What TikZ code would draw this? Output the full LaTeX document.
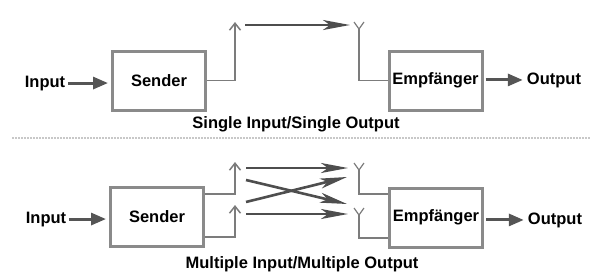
\documentclass[tikz,border=0pt]{standalone}
\usepackage{fontspec}
\setmainfont{Liberation Sans}
\usetikzlibrary{arrows.meta, positioning, calc}

\definecolor{boxgray}{HTML}{8A8A8A}
\definecolor{feedgray}{HTML}{7C7C7C}
\definecolor{sigdark}{HTML}{4E4E4E}
\definecolor{iodark}{HTML}{555555}
\definecolor{sepgray}{HTML}{C8C8C8}

\begin{document}
\begin{tikzpicture}[
    x=1pt, y=-1pt,
    block/.style={draw=boxgray, line width=3pt, minimum width=93pt, minimum height=59pt, inner sep=0pt, font=\bfseries\fontsize{16.5}{19}\selectfont},
    lbl/.style={font=\bfseries\fontsize{16.5}{19}\selectfont, inner sep=0pt},
    feed/.style={draw=feedgray, line width=1.5pt},
    txant/.style={feed, -{Straight Barb[length=7pt, width=11pt]}},
    io/.style={draw=iodark, line width=3pt, -{Triangle[length=15pt, width=12pt]}},
    sig/.style={draw=sigdark, line width=2.6pt, -{Stealth[length=27pt, width=10pt, inset=7pt]}}
]
    \useasboundingbox (0,0) rectangle (599,279);

    % Single Input / Single Output
    \node[block] (snd1) at (159,80.5) {Sender};
    \node[block] (rcv1) at (435.5,80.5) {Empfänger};
    \node[lbl, anchor=base] (in1) at (45,87) {Input};
    \node[lbl, anchor=base] (out1) at (554,84) {Output};
    \node[lbl, anchor=base] (title1) at (296,128) {Single Input/Single Output};

    \coordinate (ta1) at (235,22);
    \coordinate (ra1) at (359,29);
    \coordinate (s1a) at (245,25);
    \coordinate (s1b) at (350,25);

    \draw[io, shorten >=3pt] ([xshift=3pt]in1.east) -- (in1.east -| snd1.west);
    \draw[io, shorten <=2pt, shorten >=4pt] (rcv1.east |- out1.west) -- (out1.west);
    \draw[txant] (snd1.east) -| (ta1);
    \draw[feed] (ra1) |- (rcv1.west);
    \draw[sig] (s1a) -- (s1b);

    \draw[sepgray, line width=1.5pt, dash pattern=on 2pt off 1pt] (12,138) -- (590,138);

    % Multiple Input / Multiple Output
    \node[block] (snd2) at (157,216.5) {Sender};
    \node[block] (rcv2) at (436,217.5) {Empfänger};
    \node[lbl, anchor=base] (in2) at (46,223) {Input};
    \node[lbl, anchor=base] (out2) at (555,224) {Output};
    \node[lbl, anchor=base] (title2) at (302,268) {Multiple Input/Multiple Output};

    \coordinate (ta2) at (235,162);
    \coordinate (ta3) at (235,205);
    \coordinate (ra2) at (359,170);
    \coordinate (ra3) at (359,215);

    \draw[io, shorten >=3pt] ([xshift=3pt]in2.east) -- (in2.east -| snd2.west);
    \draw[io, shorten <=2pt, shorten >=4pt] (rcv2.east |- out2.west) -- (out2.west);
    \draw[txant] ([yshift=22.5pt]snd2.east) -| (ta2);
    \draw[txant] ([yshift=-20.5pt]snd2.east) -| (ta3);
    \draw[feed] (ra2) |- ([yshift=23.5pt]rcv2.west);
    \draw[feed] (ra3) |- ([yshift=-20.5pt]rcv2.west);

    \coordinate (s2a) at (246,168);  \coordinate (s2b) at (348,168);
    \coordinate (s3a) at (246,180);  \coordinate (s3b) at (347,204);
    \coordinate (s4a) at (246,202);  \coordinate (s4b) at (347,177);
    \coordinate (s5a) at (246,214);  \coordinate (s5b) at (348,214);
    \foreach \a/\b in {s2a/s2b, s3a/s3b, s4a/s4b, s5a/s5b}
        \draw[sig] (\a) -- (\b);

    % receiving antennas
    \foreach \r in {ra1, ra2, ra3}
        \draw[feed, line width=1.2pt] (\r) -- ++(-5,-7) (\r) -- ++(5,-7);
\end{tikzpicture}
\end{document}
